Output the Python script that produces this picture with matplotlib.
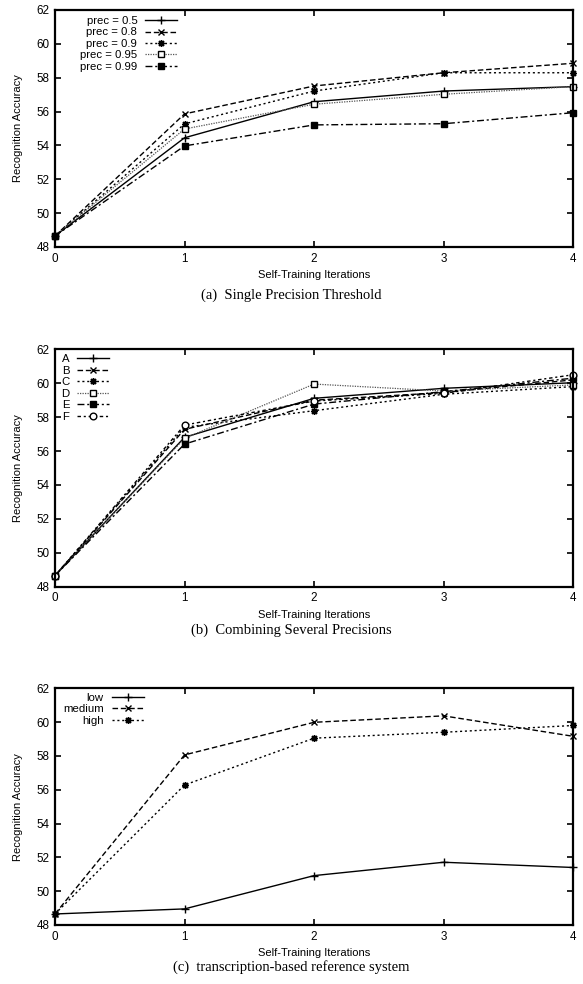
import numpy as np
import matplotlib
matplotlib.use("Agg")
import matplotlib.pyplot as plt

# Self-training iterations (x axis)
iterations = [0, 1, 2, 3, 4]

# (a) single precision threshold
prec_05 = [48.65, 54.45, 56.58, 57.21, 57.47]
prec_08 = [48.65, 55.86, 57.51, 58.29, 58.85]
prec_09 = [48.65, 55.27, 57.21, 58.29, 58.29]
prec_095 = [48.65, 54.97, 56.43, 57.02, 57.47]
prec_099 = [48.65, 53.97, 55.21, 55.28, 55.93]

# (b) combining several precisions
comb_A = [48.65, 56.81, 59.11, 59.70, 60.03]
comb_B = [48.65, 57.28, 59.00, 59.45, 60.20]
comb_C = [48.65, 57.40, 58.38, 59.35, 59.80]
comb_D = [48.65, 56.75, 59.95, 59.54, 59.90]
comb_E = [48.65, 56.41, 58.77, 59.50, 60.30]
comb_F = [48.65, 57.53, 58.95, 59.40, 60.50]

# (c) transcription-based reference system
ref_low = [48.65, 48.95, 50.92, 51.71, 51.40]
ref_medium = [48.65, 58.06, 59.99, 60.37, 59.16]
ref_high = [48.65, 56.28, 59.05, 59.40, 59.80]

yticks = [48, 50, 52, 54, 56, 58, 60, 62]

captions = ["(a)  Single Precision Threshold",
            "(b)  Combining Several Precisions",
            "(c)  transcription-based reference system"]

plt.rcParams['font.family'] = ['Liberation Sans', 'DejaVu Sans']

# gnuplot-like line/point styles
STY = {
    'solid':   dict(color='black', ls='-', lw=1.0),
    'dash':    dict(color='black', ls=(0, (4, 2)), lw=1.0),
    'dot':     dict(color='black', ls=(0, (1.5, 2)), lw=1.0),
    'ldot':    dict(color='#555555', ls=(0, (1, 1)), lw=0.9),
    'dashdot': dict(color='black', ls=(0, (5, 2, 1.5, 2)), lw=1.0),
    'sdash':   dict(color='black', ls=(0, (2.5, 2, 1.5, 2)), lw=1.0),
}
MK = {
    'plus': dict(marker='+', ms=5.5, mew=1.0, mec='black'),
    'x': dict(marker='x', ms=4.5, mew=1.0, mec='black'),
    'star': dict(marker=(8, 2, 0), ms=5, mew=1.0, mec='black'),
    'osq': dict(marker='s', ms=4.5, mew=1.0, mfc='white', mec='black'),
    'fsq': dict(marker='s', ms=4.8, mew=1.0, mfc='black', mec='black'),
    'ocirc': dict(marker='o', ms=4.8, mew=1.0, mfc='white', mec='black'),
}


def style_axes(ax):
    ax.set_xlim(0, 4)
    ax.set_ylim(48, 62)
    ax.set_xticks(iterations)
    ax.set_yticks(yticks)
    ax.tick_params(direction='in', length=4, width=1.2, top=True, right=True,
                   labelsize=8.4, pad=4)
    for s in ax.spines.values():
        s.set_linewidth(1.6)
    ax.set_xlabel('Self-Training Iterations', fontsize=8, labelpad=4)
    ax.set_ylabel('Recognition Accuracy', fontsize=8, labelpad=10)


fig = plt.figure(figsize=(5.83, 9.84), dpi=100)

axes_pos = [
    [0.0943, 0.749, 0.889, 0.2409],
    [0.0943, 0.4038, 0.889, 0.2412],
    [0.0943, 0.0600, 0.889, 0.2405],
]

series = [
    [(prec_05, 'prec = 0.5', 'solid', 'plus'),
     (prec_08, 'prec = 0.8', 'dash', 'x'),
     (prec_09, 'prec = 0.9', 'dot', 'star'),
     (prec_095, 'prec = 0.95', 'ldot', 'osq'),
     (prec_099, 'prec = 0.99', 'dashdot', 'fsq')],
    [(comb_A, 'A', 'solid', 'plus'),
     (comb_B, 'B', 'dash', 'x'),
     (comb_C, 'C', 'dot', 'star'),
     (comb_D, 'D', 'ldot', 'osq'),
     (comb_E, 'E', 'dashdot', 'fsq'),
     (comb_F, 'F', 'sdash', 'ocirc')],
    [(ref_low, 'low', 'solid', 'plus'),
     (ref_medium, 'medium', 'dash', 'x'),
     (ref_high, 'high', 'dot', 'star')],
]

legend_x = [0.044, 0.007, 0.011]
legend_y = [0.984, 0.988, 0.99]
caption_y = [1 - 299 / 984, 1 - 634 / 984, 1 - 971 / 984]

for i in range(3):
    ax = fig.add_axes(axes_pos[i])
    for vals, lab, ls, mk in series[i]:
        ax.plot(iterations, vals, label=lab, clip_on=False, **STY[ls], **MK[mk])
    style_axes(ax)
    ax.legend(loc='upper left', bbox_to_anchor=(legend_x[i], legend_y[i]), frameon=False,
              markerfirst=False, fontsize=8.2, handlelength=2.8, handletextpad=0.7,
              labelspacing=0.13, borderpad=0.2, borderaxespad=0)
    fig.text(0.5, caption_y[i], captions[i], ha='center', va='baseline',
             fontsize=10.5, family='Liberation Serif')

fig.savefig('out.png', dpi=100)
